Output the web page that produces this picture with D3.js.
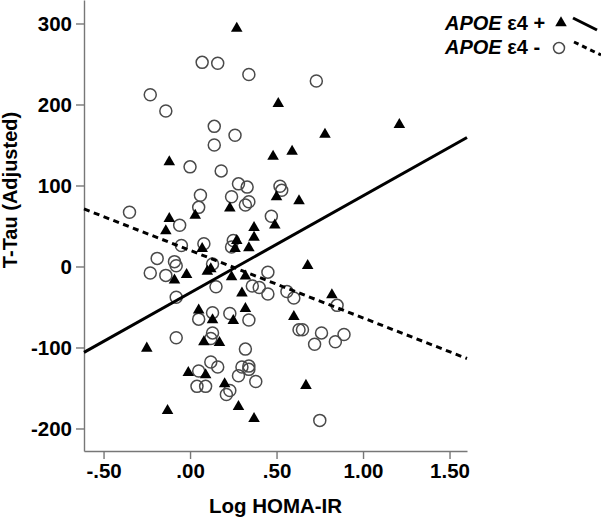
<!DOCTYPE html>
<html>
<head>
<meta charset="utf-8">
<script src="https://cdn.jsdelivr.net/npm/d3@7/dist/d3.min.js"></script>
<style>
  html, body { margin: 0; padding: 0; background: #fff; }
  svg { display: block; }
  text { font-family: "Liberation Sans", Arial, sans-serif; font-weight: bold; fill: #000; }
</style>
</head>
<body>
<svg id="chart" width="601" height="518"></svg>
<script>
// ---- Data ----
const xTicks = [-0.5, 0, 0.5, 1, 1.5];
const xTickLabels = ["-.50", ".00", ".50", "1.00", "1.50"];
const yTicks = [-200, -100, 0, 100, 200, 300];
const yTickLabels = ["-200", "-100", "0", "100", "200", "300"];
const xTitle = "Log HOMA-IR";
const yTitle = "T-Tau (Adjusted)";
const seriesNames = ["APOE ε4 +", "APOE ε4 -"];

// APOE e4 + (filled triangles)
const posX = [0.27, 0.51, 1.21, 0.78, 0.59, 0.48, -0.12, 0.50, 0.63, 0.23, 0.03, -0.12, 0.49, 0.37, -0.14,
  0.37, 0.27, 0.07, 0.26, 0.34, 0.68, 0.12, 0.10, -0.02, 0.24, 0.32, -0.09, 0.30, 0.82, 0.32,
  0.05, 0.13, 0.25, 0.60, 0.08, 0.17, -0.25, -0.01, 0.09, 0.20, 0.67, 0.28, -0.13, 0.37];
const posY = [294, 201, 175, 163, 142, 136, 129, 86, 81, 72, 63, 59, 51, 48, 44,
  36, 32, 22, 22, 23, 1, -3, -6, -10, -13, -12, -17, -33, -35, -52,
  -54, -66, -67, -62, -93, -94, -101, -131, -134, -145, -147, -173, -178, -188];

// APOE e4 - (open circles)
const negX = [0.07, 0.16, 0.34, 0.73, -0.23, -0.14, 0.14, 0.26, 0.14, 0.00, 0.18, 0.28, 0.33, 0.52, 0.53,
  0.06, 0.24, 0.34, 0.32, 0.05, -0.35, 0.47, -0.06, -0.05, 0.08, 0.25, 0.24, -0.19, -0.09, -0.08,
  0.13, -0.23, -0.14, 0.45, 0.15, 0.36, 0.40, 0.45, 0.56, 0.60, -0.08, 0.85, 0.13, 0.23, 0.05,
  0.34, 0.63, 0.65, 0.76, 0.89, 0.84, 0.72, -0.08, 0.13, 0.12, 0.32, 0.12, 0.16, 0.05, 0.30,
  0.34, 0.34, 0.28, 0.38, 0.04, 0.09, 0.23, 0.21, 0.75];
const negY = [252, 251, 237, 229, 212, 192, 173, 162, 150, 123, 118, 102, 98, 99, 94,
  88, 86, 80, 76, 73, 67, 62, 51, 26, 28, 32, 24, 10, 6, 1,
  3, -8, -11, -7, -25, -24, -26, -34, -31, -39, -38, -48, -57, -58, -65,
  -66, -78, -78, -82, -84, -93, -96, -88, -82, -89, -102, -118, -124, -129, -124,
  -123, -127, -135, -142, -148, -148, -153, -158, -190];

// Fit lines (intercept, slope) for the two groups
const fitIntercept = [-32.6, 19.9];
const fitSlope = [119.8, -83.4];

// ---- Drawing ----
const svg = d3.select("#chart");
const x = d3.scaleLinear().domain([-0.613, 1.601]).range([84, 467]);
const y = d3.scaleLinear().domain([-227.8, 329]).range([451, 0]);
const axisColor = "#777";
const fontSize = 20.5;

// axes
const gx = svg.append("g").attr("transform", "translate(0,451)")
  .call(d3.axisBottom(x).tickValues(xTicks).tickSize(8).tickSizeOuter(0).tickPadding(4)
    .tickFormat((d, i) => xTickLabels[i]));
const gy = svg.append("g").attr("transform", "translate(84,0)")
  .call(d3.axisLeft(y).tickValues(yTicks).tickSize(8).tickSizeOuter(0).tickPadding(4)
    .tickFormat((d, i) => yTickLabels[i]));
[gx, gy].forEach(g => {
  g.selectAll("path.domain").attr("stroke", axisColor).attr("stroke-width", 1.4);
  g.selectAll(".tick line").attr("stroke", axisColor).attr("stroke-width", 1.4);
  g.selectAll(".tick text").attr("font-size", fontSize)
    .attr("font-family", "'Liberation Sans', Arial, sans-serif").attr("font-weight", "bold").attr("fill", "#000");
});

// titles
svg.append("text").attr("x", 275.5).attr("y", 513).attr("text-anchor", "middle")
  .attr("font-size", fontSize).text(xTitle);
svg.append("text").attr("transform", "translate(16.5,190) rotate(-90)").attr("text-anchor", "middle")
  .attr("font-size", 20).text(yTitle);

// markers
const circles = negX.map((v, i) => ({ x: v, y: negY[i] }));
const tris = posX.map((v, i) => ({ x: v, y: posY[i] }));
svg.append("g").selectAll("circle").data(circles).join("circle")
  .attr("cx", d => x(d.x)).attr("cy", d => y(d.y)).attr("r", 6)
  .attr("fill", "none").attr("stroke", "#4a4a4a").attr("stroke-width", 1.5);
const triPath = d3.symbol(d3.symbolTriangle, 58)();
svg.append("g").selectAll("path").data(tris).join("path")
  .attr("d", triPath).attr("transform", d => `translate(${x(d.x)},${y(d.y)})`)
  .attr("fill", "#000");

// fit lines
const [x0, x1] = x.domain();
const dashes = [null, "6,4.5"];
fitIntercept.forEach((a, i) => {
  const b = fitSlope[i];
  svg.append("line")
    .attr("x1", x(x0)).attr("y1", y(a + b * x0))
    .attr("x2", x(x1)).attr("y2", y(a + b * x1))
    .attr("stroke", "#000").attr("stroke-width", 3)
    .attr("stroke-dasharray", dashes[i]);
});

// legend
const legendRows = [30, 54];
seriesNames.forEach((name, i) => {
  const t = svg.append("text").attr("x", 445).attr("y", legendRows[i]).attr("font-size", 20);
  const parts = name.split(" ");
  t.append("tspan").attr("font-style", "italic").text(parts[0]);
  t.append("tspan").text(" " + parts.slice(1).join(" "));
});
svg.append("path").attr("d", triPath).attr("transform", "translate(561,23)").attr("fill", "#000");
svg.append("line").attr("x1", 573).attr("y1", 18).attr("x2", 597).attr("y2", 30)
  .attr("stroke", "#000").attr("stroke-width", 3);
svg.append("circle").attr("cx", 559).attr("cy", 48).attr("r", 5.5)
  .attr("fill", "none").attr("stroke", "#4a4a4a").attr("stroke-width", 1.5);
svg.append("line").attr("x1", 574).attr("y1", 42).attr("x2", 601).attr("y2", 55)
  .attr("stroke", "#000").attr("stroke-width", 3).attr("stroke-dasharray", "5,4");
</script>
</body>
</html>
